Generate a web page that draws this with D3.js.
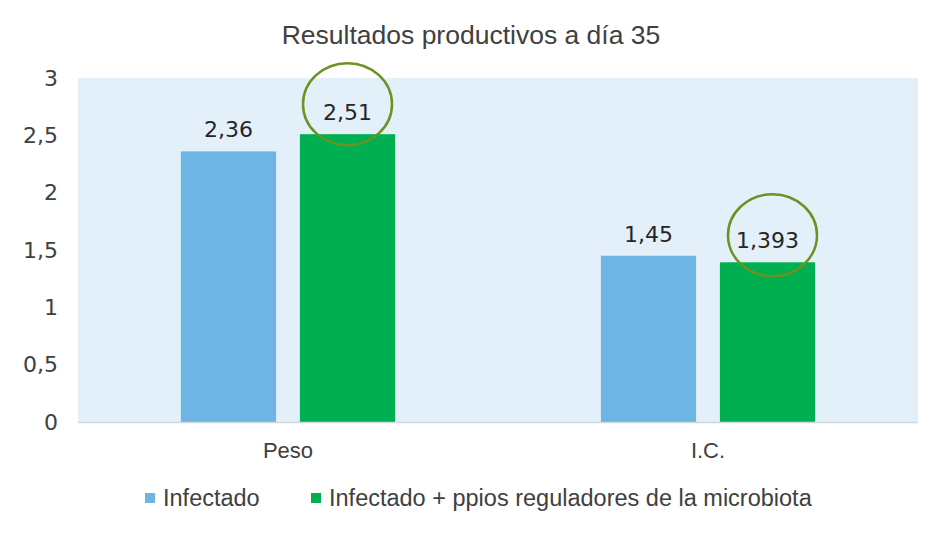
<!DOCTYPE html>
<html>
<head>
<meta charset="utf-8">
<script src="https://cdn.jsdelivr.net/npm/d3@7"></script>
<style>
  body { margin: 0; background: #fff; }
  svg { display: block; }
</style>
</head>
<body>
<div id="chart"></div>
<script>
// data
const categories = ['Peso', 'I.C.'];
const seriesNames = ['Infectado', 'Infectado + ppios reguladores de la microbiota'];
const infectado = [2.36, 1.45];
const infectadoPpios = [2.51, 1.393];
const labelsInfectado = ['2,36', '1,45'];
const labelsPpios = ['2,51', '1,393'];
const yTicks = [0, 0.5, 1, 1.5, 2, 2.5, 3];
const yTickLabels = ['0', '0,5', '1', '1,5', '2', '2,5', '3'];

const W = 950, H = 539;
const plot = {left: 78, right: 918, top: 78, bottom: 422};
const colors = ['#6db6e4', '#00b050'];

const svg = d3.select('#chart').append('svg')
	.attr('width', W)
	.attr('height', H);

const x0 = d3.scaleBand()
	.domain(categories)
	.range([plot.left, plot.right])
	.paddingInner(0.49)
	.paddingOuter(0.245);

const x1 = d3.scaleBand()
	.domain(d3.range(seriesNames.length))
	.range([0, x0.bandwidth()])
	.paddingInner(0.2)
	.paddingOuter(0);

const y = d3.scaleLinear()
	.domain([0, 3])
	.range([plot.bottom, plot.top]);

// plot background
svg.append('rect')
	.attr('x', plot.left)
	.attr('y', plot.top)
	.attr('width', plot.right - plot.left)
	.attr('height', plot.bottom - plot.top)
	.attr('fill', '#e3f0fa');

// title
svg.append('text')
	.attr('x', 471)
	.attr('y', 44)
	.attr('text-anchor', 'middle')
	.attr('font-family', 'Liberation Sans, Arial, sans-serif')
	.attr('font-size', 26.5)
	.attr('fill', '#404040')
	.text('Resultados productivos a día 35');

// y axis labels
const yAxis = d3.axisLeft(y)
	.tickValues(yTicks)
	.tickFormat((d, i) => yTickLabels[i])
	.tickSize(0)
	.tickPadding(0);

const yg = svg.append('g')
	.attr('transform', `translate(${plot.left - 20},0)`)
	.call(yAxis);
yg.select('.domain').remove();
yg.selectAll('text')
	.attr('font-family', 'DejaVu Sans, Verdana, sans-serif')
	.attr('font-size', 22)
	.attr('fill', '#404040');

// bars
const rows = categories.map((c, i) => ({
	cat: c,
	vals: [infectado[i], infectadoPpios[i]],
	labels: [labelsInfectado[i], labelsPpios[i]],
}));

const groups = svg.selectAll('g.grp')
	.data(rows)
	.enter()
	.append('g')
	.attr('class', 'grp')
	.attr('transform', d => `translate(${x0(d.cat)},0)`);

groups.selectAll('rect')
	.data(d => d.vals)
	.enter()
	.append('rect')
	.attr('x', (d, i) => x1(i))
	.attr('y', d => y(d))
	.attr('width', x1.bandwidth())
	.attr('height', d => y(0) - y(d))
	.attr('fill', (d, i) => colors[i]);

groups.selectAll('text.val')
	.data(d => d.vals.map((v, i) => ({v, i, label: d.labels[i]})))
	.enter()
	.append('text')
	.attr('class', 'val')
	.attr('x', d => x1(d.i) + x1.bandwidth() / 2)
	.attr('y', d => y(d.v) - 14)
	.attr('text-anchor', 'middle')
	.attr('font-family', 'DejaVu Sans, Verdana, sans-serif')
	.attr('font-size', 22)
	.attr('fill', '#262626')
	.text(d => d.label);

// highlight circles around the second series labels
groups.append('ellipse')
	.attr('cx', (d, i) => x1(1) + x1.bandwidth() / 2 + (i === 1 ? 5 : 0))
	.attr('cy', (d, i) => y(d.vals[1]) - (i === 1 ? 27 : 30))
	.attr('rx', 44.5)
	.attr('ry', 41)
	.attr('fill', 'none')
	.attr('stroke', '#6b9322')
	.attr('stroke-width', 2.5);

// x axis line
svg.append('line')
	.attr('x1', plot.left)
	.attr('x2', plot.right)
	.attr('y1', plot.bottom + 0.5)
	.attr('y2', plot.bottom + 0.5)
	.attr('stroke', '#d0d7df')
	.attr('stroke-width', 1.5);

// category labels
const xAxis = d3.axisBottom(x0).tickSize(0).tickPadding(0);
const xg = svg.append('g')
	.attr('transform', `translate(0,${plot.bottom + 20})`)
	.call(xAxis);
xg.select('.domain').remove();
xg.selectAll('text')
	.attr('dy', '0.71em')
	.attr('font-family', 'Liberation Sans, Arial, sans-serif')
	.attr('font-size', 22)
	.attr('fill', '#404040');

// legend
const legendX = [145, 311];
const legend = svg.selectAll('g.leg')
	.data(seriesNames)
	.enter()
	.append('g')
	.attr('class', 'leg')
	.attr('transform', (d, i) => `translate(${legendX[i]},498)`);

legend.append('rect')
	.attr('x', 0)
	.attr('y', -5)
	.attr('width', 10)
	.attr('height', 10)
	.attr('fill', (d, i) => colors[i]);

legend.append('text')
	.attr('x', 18)
	.attr('y', 0)
	.attr('dy', '0.35em')
	.attr('font-family', 'Liberation Sans, Arial, sans-serif')
	.attr('font-size', 23.5)
	.attr('fill', '#404040')
	.text(d => d);
</script>
</body>
</html>
